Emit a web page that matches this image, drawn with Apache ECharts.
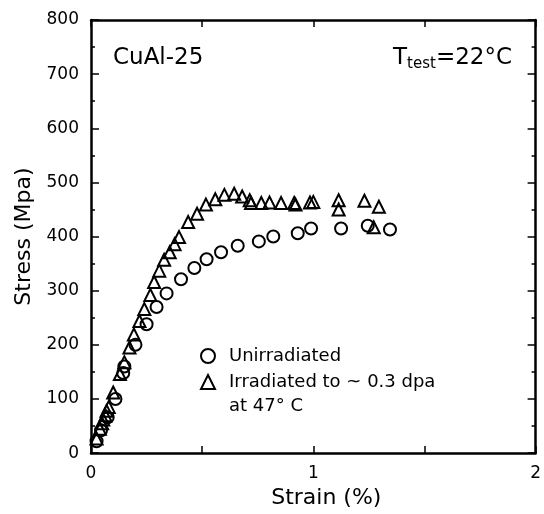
<!DOCTYPE html>
<html>
<head>
<meta charset="utf-8">
<script src="https://cdn.jsdelivr.net/npm/echarts@6/dist/echarts.min.js"></script>
<style>html,body{margin:0;padding:0;background:#fff}#c{width:544px;height:514px}</style>
</head>
<body>
<div id="c"></div>
<script>
var xTicks = [0, 1, 2];
var yTicks = [0, 100, 200, 300, 400, 500, 600, 700, 800];
var unirradiated = [
  [0.025,22],[0.045,42],[0.075,66],[0.11,100],[0.145,148],[0.15,160],[0.2,200],
  [0.25,238],[0.295,270],[0.34,295],[0.405,321],[0.465,342],[0.52,358],[0.585,371],
  [0.66,383],[0.755,391],[0.82,400],[0.93,406],[0.99,415],[1.125,415],[1.245,420],[1.345,413]
];
var irradiated = [
  [0.025,27],[0.04,45],[0.05,55],[0.055,62],[0.065,70],[0.07,78],[0.08,85],[0.1,112],
  [0.13,146],[0.15,168],[0.173,195],[0.193,219],[0.218,244],[0.24,266],[0.267,292],
  [0.284,316],[0.307,337],[0.329,357],[0.354,371],[0.376,386],[0.396,399],[0.437,427],
  [0.477,442],[0.517,459],[0.559,469],[0.6,477],[0.644,479],[0.68,474],[0.714,467],
  [0.72,462],[0.766,462],[0.803,463],[0.855,462],[0.914,462],[0.92,459],[0.985,463],
  [1.0,464],[1.114,467],[1.114,450],[1.23,466],[1.272,417],[1.295,455]
];
var FONT = 'DejaVu Sans';
var chart = echarts.init(document.getElementById('c'));
function axisLineStyle() { return {show: true, onZero: false, lineStyle: {color: '#000', width: 2.5}}; }
chart.setOption({
  animation: false,
  grid: {left: 91, right: 4, top: 20, bottom: 60},
  xAxis: [{
    type: 'value', min: 0, max: 2, interval: 0.5,
    name: 'Strain (%)', nameLocation: 'middle', nameGap: 32,
    nameTextStyle: {color: '#000', fontSize: 22, fontFamily: FONT, padding: [0, 0, 0, 26]},
    axisLine: axisLineStyle(),
    axisTick: {show: true, inside: true, length: 7, lineStyle: {color: '#000', width: 1.5}},
    axisLabel: {color: '#000', fontSize: 17, fontFamily: FONT, margin: 12,
      formatter: function (v) { return xTicks.indexOf(v) >= 0 ? String(v) : ''; }},
    splitLine: {show: false}
  }, {
    type: 'value', min: 0, max: 2, interval: 0.5, position: 'top',
    axisLine: axisLineStyle(),
    axisTick: {show: true, inside: true, length: 7, lineStyle: {color: '#000', width: 1.5}},
    axisLabel: {show: false}, splitLine: {show: false}
  }],
  yAxis: [{
    type: 'value', min: 0, max: 800, interval: 100,
    name: 'Stress (Mpa)', nameLocation: 'middle', nameGap: 38,
    nameTextStyle: {color: '#000', fontSize: 22, fontFamily: FONT},
    axisLine: axisLineStyle(),
    axisTick: {show: true, inside: true, length: 8, lineStyle: {color: '#000', width: 1.5}},
    minorTick: {show: true, splitNumber: 2, length: 4, lineStyle: {color: '#000', width: 1.5}},
    axisLabel: {color: '#000', fontSize: 17, fontFamily: FONT, margin: 12,
      formatter: function (v) { return yTicks.indexOf(v) >= 0 ? String(v) : ''; }},
    splitLine: {show: false}
  }, {
    type: 'value', min: 0, max: 800, interval: 100, position: 'right',
    axisLine: axisLineStyle(),
    axisTick: {show: true, inside: true, length: 8, lineStyle: {color: '#000', width: 1.5}},
    minorTick: {show: true, splitNumber: 2, length: 4, lineStyle: {color: '#000', width: 1.5}},
    axisLabel: {show: false}, splitLine: {show: false}
  }],
  legend: {
    left: 195, top: 342, orient: 'vertical', itemGap: 8,
    itemWidth: 14, itemHeight: 14,
    textStyle: {color: '#000', fontSize: 18, fontFamily: FONT, padding: [0, 0, 0, 9]},
    data: [
      {name: 'Unirradiated', icon: 'circle'},
      {name: 'Irradiated to ~ 0.3 dpa', icon: 'triangle'}
    ],
    itemStyle: {color: '#fff', borderColor: '#000', borderWidth: 2}
  },
  series: [{
    name: 'Unirradiated', type: 'scatter', data: unirradiated,
    symbol: 'circle', symbolSize: 12,
    itemStyle: {color: 'rgba(255,255,255,0)', borderColor: '#000', borderWidth: 2, opacity: 1}
  }, {
    name: 'Irradiated to ~ 0.3 dpa', type: 'scatter', data: irradiated,
    symbol: 'triangle', symbolSize: 12,
    itemStyle: {color: 'rgba(255,255,255,0)', borderColor: '#000', borderWidth: 2, opacity: 1}
  }],
  graphic: [{
    type: 'text', left: 229, top: 397,
    style: {text: 'at 47° C', fill: '#000', font: '18px "DejaVu Sans"'}
  }, {
    type: 'text', left: 113, top: 47,
    style: {text: 'CuAl-25', fill: '#000', font: '23px "DejaVu Sans"'}
  }, {
    type: 'text', right: 32, top: 47,
    style: {
      text: '{a|T}{b|test}{a|=22°C}', fill: '#000',
      rich: {
        a: {fontSize: 23, fontFamily: FONT, fill: '#000', color: '#000'},
        b: {fontSize: 15, fontFamily: FONT, fill: '#000', color: '#000', padding: [12, 0, 0, 0]}
      }
    }
  }]
});
</script>
</body>
</html>
